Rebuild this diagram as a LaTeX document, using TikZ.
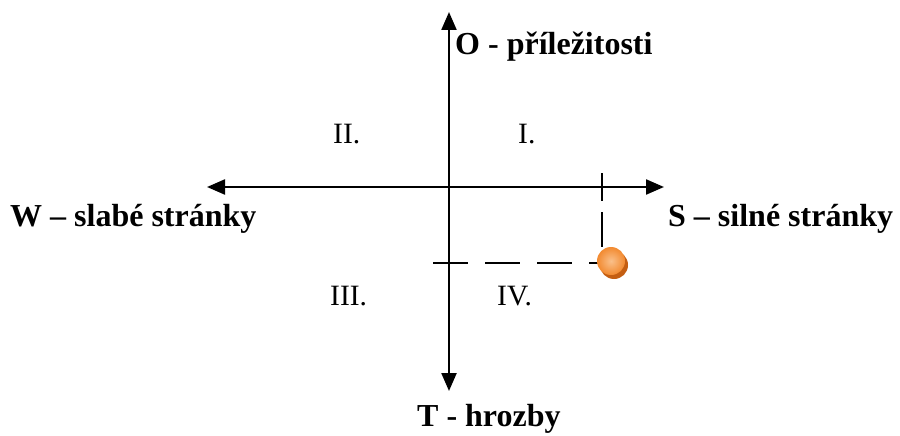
\documentclass[tikz,border=0pt]{standalone}
\usepackage{fontspec}
\setmainfont{Liberation Serif}
\usetikzlibrary{arrows.meta}
\definecolor{ballorange}{HTML}{F28A30}
\definecolor{balllight}{HTML}{FAC08A}
\definecolor{balldark}{HTML}{C45E12}

\begin{document}
\begin{tikzpicture}[x=1pt,y=-1pt]
  \useasboundingbox (0,0) rectangle (900,436);
  \tikzset{
    axis/.style={line width=2.3pt, -{Triangle[length=18pt,width=15pt]}},
    guide/.style={line width=2.3pt, dash pattern=on 35pt off 17pt},
    lbl/.style={font=\fontsize{32}{38}\selectfont\bfseries, inner sep=0pt, anchor=base west},
    quad/.style={font=\fontsize{29.5}{34}\selectfont, inner sep=0pt, anchor=base west}
  }
  % axis end points
  \coordinate (ax_top) at (449,12);
  \coordinate (ax_bottom) at (449,391);
  \coordinate (ax_left) at (207,187);
  \coordinate (ax_right) at (664,187);
  \coordinate (ax_mid) at (449,187);
  % draw the two axes
  \draw[axis] (ax_mid) -- (ax_top);
  \draw[axis] (ax_mid) -- (ax_bottom);
  \draw[axis] (ax_mid) -- (ax_left);
  \draw[axis] (ax_mid) -- (ax_right);
  % tick on S axis and dashed guides to the point
  \coordinate (tick_pt0) at (602,173);
  \coordinate (tick_pt1) at (602,201);
  \draw[line width=2.3pt] (tick_pt0) -- (tick_pt1);
  \coordinate (ball_c) at (611,261);
  \coordinate (guide_v) at (602,212);
  \coordinate (guide_h) at (433,263);
  \draw[guide] (guide_v) -- (602,263);
  \draw[guide] (guide_h) -- (611,263);
  % orange ball with shadow
  \fill[balldark] ([shift={(3,4)}]ball_c) circle (14);
  \shade[inner color=balllight, outer color=ballorange] (ball_c) circle (14);
  % axis labels
  \node[lbl] (lab_o) at (455,55) {O - příležitosti};
  \node[lbl] (lab_w) at (10,226) {W – slabé stránky};
  \node[lbl] (lab_s) at (668,226) {S – silné stránky};
  \node[lbl] (lab_t) at (417,426) {T - hrozby};
  % quadrant numbers
  \node[quad] (q2) at (333,143) {II.};
  \node[quad] (q1) at (518,143) {I.};
  \node[quad] (q3) at (330,305) {III.};
  \node[quad] (q4) at (497,305) {IV.};
\end{tikzpicture}
\end{document}
